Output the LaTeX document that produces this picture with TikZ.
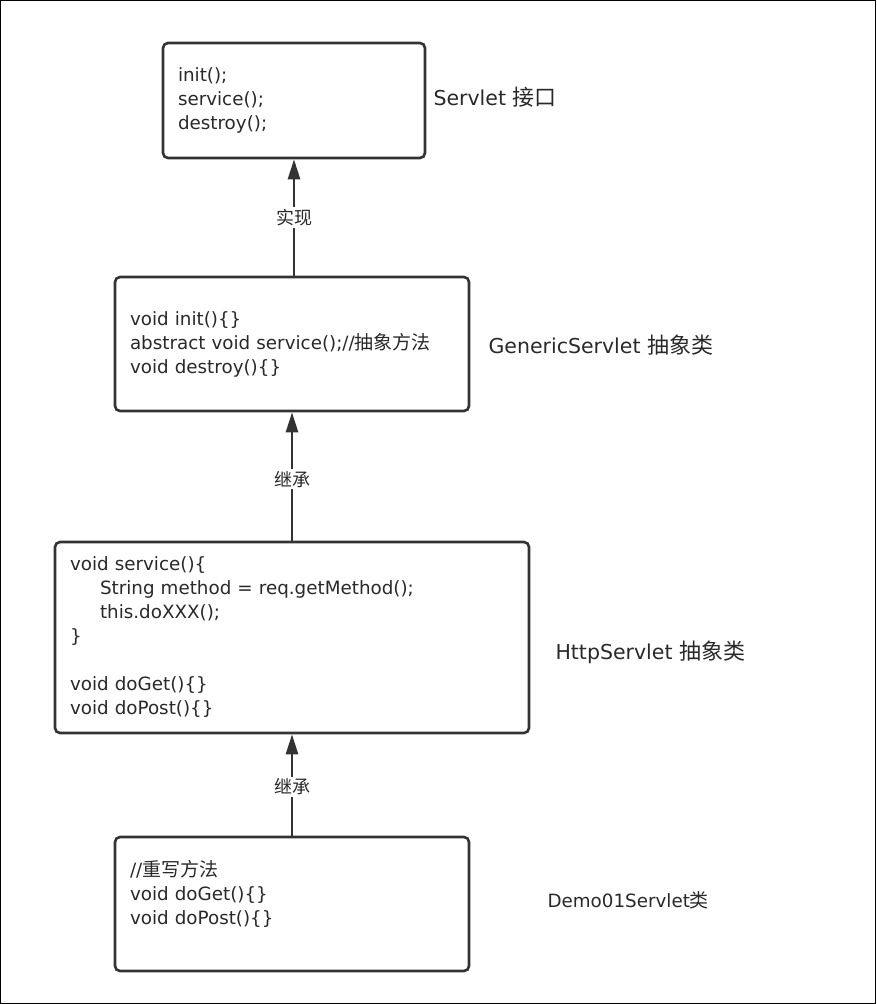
\documentclass[tikz,border=0pt]{standalone}
\usepackage{fontspec}
\setmainfont{DejaVu Sans}
\newfontfamily\cjk{Noto Sans CJK SC}
\usetikzlibrary{arrows.meta}
\definecolor{ln}{HTML}{333333}
\newcommand{\zh}[1]{{\cjk\fontsize{19}{24}\selectfont #1}}
\begin{document}
\begin{tikzpicture}[x=1pt,y=-1pt,
  box/.style={draw=ln, line width=2.6pt, rounded corners=5pt, fill=white,
    align=left, inner xsep=15pt, inner ysep=0pt, font=\fontsize{18.3}{24}\selectfont, text=ln!80!black},
  side/.style={anchor=west, font=\fontsize{20.5}{24}\selectfont, text=ln!80!black},
  conn/.style={draw=ln, line width=2.6pt, -{Triangle[length=20pt,width=12pt]}},
  lbl/.style={fill=white, inner sep=2pt, font=\cjk\fontsize{18}{20}\selectfont, text=ln!80!black}]
\useasboundingbox (0,0) rectangle (876,1004);
\draw[line width=1pt] (0.5,0.5) rectangle (875.5,1003.5);

\node[box, text width=232pt, minimum height=115pt] (servlet) at (294,100.5)
  {init();\\service();\\destroy();};
\node[box, text width=324pt, minimum height=134pt] (generic) at (292,344)
  {void init()\{\}\\abstract void service();//\zh{抽象方法}\\void destroy()\{\}};
\node[box, text width=444pt, minimum height=191pt] (http) at (292,637.5)
  {void service()\{\\\hspace*{30pt}String method = req.getMethod();\\\hspace*{30pt}this.doXXX();\\\}\\[24pt]void doGet()\{\}\\void doPost()\{\}};
\node[box, text width=324pt, minimum height=134pt] (demo) at (292,904)
  {//\zh{重写方法}\\void doGet()\{\}\\void doPost()\{\}\\~};

\node[side] (s1) at (430,97) {Servlet {\cjk\fontsize{22}{24}\selectfont 接口}};
\node[side] (s2) at (485,345) {GenericServlet {\cjk\fontsize{22}{24}\selectfont 抽象类}};
\node[side] (s3) at (552,652) {HttpServlet {\cjk\fontsize{22}{24}\selectfont 抽象类}};
\node[side, font=\fontsize{18.3}{20}\selectfont] (s4) at (544,900) {Demo01Servlet{\cjk\fontsize{19}{20}\selectfont 类}};

\draw[conn] (generic.north -| servlet.south) -- node[lbl, pos=0.5] (l1) {实现} (servlet.south);
\draw[conn] (http.north) -- node[lbl, pos=0.48] (l2) {继承} (generic.south);
\draw[conn] (demo.north) -- node[lbl, pos=0.48] (l3) {继承} (http.south);
\end{tikzpicture}
\end{document}
